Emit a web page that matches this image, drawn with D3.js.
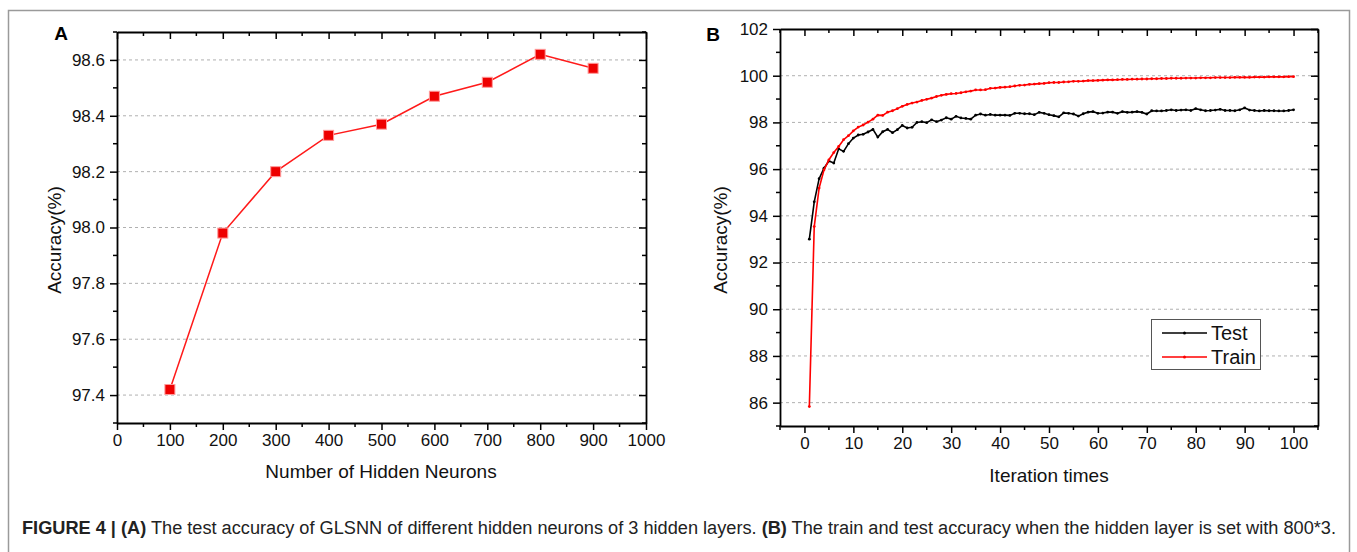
<!DOCTYPE html>
<html><head><meta charset="utf-8">
<script src="https://cdn.jsdelivr.net/npm/d3@7"></script>
<style>
body{margin:0;background:#fff;}
svg{display:block;}
text{font-family:"Liberation Sans",Arial,sans-serif;}
</style>
</head><body>
<svg id="chart" width="1357" height="552"></svg>
<script>
// ---------- Panel A data ----------
const neurons = [100, 200, 300, 400, 500, 600, 700, 800, 900];
const accuracyA = [97.42, 97.98, 98.20, 98.33, 98.37, 98.47, 98.52, 98.62, 98.57];
const xTicksA = [0, 100, 200, 300, 400, 500, 600, 700, 800, 900, 1000];
const yTicksA = [97.4, 97.6, 97.8, 98.0, 98.2, 98.4, 98.6];

// ---------- Panel B data ----------
const iterations = [1,2,3,4,5,6,7,8,9,10,11,12,13,14,15,16,17,18,19,20,21,22,23,24,25,26,27,28,29,30,
  31,32,33,34,35,36,37,38,39,40,41,42,43,44,45,46,47,48,49,50,51,52,53,54,55,56,57,58,59,60,
  61,62,63,64,65,66,67,68,69,70,71,72,73,74,75,76,77,78,79,80,81,82,83,84,85,86,87,88,89,90,
  91,92,93,94,95,96,97,98,99,100];
const testAcc = [93.0,94.6,95.59,96.04,96.35,96.26,96.87,96.76,97.09,97.33,
  97.46,97.49,97.59,97.70,97.37,97.60,97.70,97.56,97.69,97.87,
  97.76,97.79,98.00,98.03,97.99,98.11,98.03,98.10,98.20,98.14,
  98.26,98.19,98.17,98.14,98.31,98.36,98.31,98.34,98.31,98.31,
  98.31,98.30,98.39,98.39,98.37,98.37,98.33,98.43,98.39,98.33,
  98.29,98.24,98.41,98.39,98.36,98.27,98.37,98.44,98.46,98.39,
  98.40,98.44,98.44,98.39,98.46,98.43,98.44,98.46,98.43,98.36,
  98.50,98.49,98.49,98.51,98.54,98.51,98.53,98.54,98.51,98.59,
  98.54,98.50,98.51,98.53,98.56,98.51,98.51,98.50,98.54,98.62,
  98.53,98.51,98.49,98.51,98.50,98.50,98.49,98.49,98.51,98.54];
const trainAcc = [85.83,93.54,95.19,95.97,96.40,96.71,96.97,97.26,97.43,97.64,
  97.80,97.89,98.01,98.14,98.31,98.30,98.44,98.50,98.59,98.69,
  98.77,98.83,98.87,98.94,98.99,99.04,99.11,99.16,99.20,99.23,
  99.24,99.27,99.31,99.34,99.39,99.39,99.40,99.46,99.47,99.50,
  99.51,99.53,99.56,99.59,99.60,99.63,99.64,99.66,99.67,99.70,
  99.71,99.71,99.73,99.74,99.76,99.76,99.77,99.79,99.79,99.80,
  99.81,99.82,99.82,99.83,99.84,99.84,99.85,99.85,99.86,99.86,
  99.87,99.87,99.88,99.88,99.89,99.89,99.89,99.90,99.90,99.90,
  99.91,99.91,99.91,99.92,99.92,99.92,99.92,99.93,99.93,99.93,
  99.93,99.94,99.94,99.94,99.95,99.95,99.95,99.95,99.96,99.96];
const xTicksB = [0,10,20,30,40,50,60,70,80,90,100];
const yTicksB = [86,88,90,92,94,96,98,100,102];
const seriesNames = ["Test", "Train"];

const captionBold1 = "FIGURE 4 | (A)";
const captionText1 = " The test accuracy of GLSNN of different hidden neurons of 3 hidden layers. ";
const captionBold2 = "(B)";
const captionText2 = " The train and test accuracy when the hidden layer is set with 800*3.";

const svg = d3.select("#chart");

// outer frame
svg.append("rect").attr("x", 8.5).attr("y", 10.5).attr("width", 1341).attr("height", 560)
  .attr("fill", "none").attr("stroke", "#9a9a9a").attr("stroke-width", 1.5);

function drawFrame(x, y, xTicks, yTicks, xMinorStep, yMinorStep, gridTicks) {
  const [x0, x1] = x.range();
  const [y0, y1] = y.range();
  const g = svg.append("g");
  g.selectAll("line.grid").data(gridTicks).join("line")
    .attr("x1", x0).attr("x2", x1)
    .attr("y1", d => y(d)).attr("y2", d => y(d))
    .attr("stroke", "#b0b0b0").attr("stroke-width", 1).attr("stroke-dasharray", "3,3");
  const xd = x.domain(), yd = y.domain();
  const xMinor = d3.range(Math.ceil(xd[0] / xMinorStep) * xMinorStep, xd[1] + 1e-9, xMinorStep)
    .filter(v => !xTicks.some(t => Math.abs(t - v) < 1e-9));
  const yMinor = d3.range(Math.ceil(yd[0] / yMinorStep - 1e-9) * yMinorStep, yd[1] + 1e-9, yMinorStep)
    .filter(v => !yTicks.some(t => Math.abs(t - v) < 1e-9));
  const fontSize = 17;
  const bot = g.append("g").attr("transform", `translate(0,${y0})`)
    .call(d3.axisBottom(x).tickValues(xTicks).tickSize(7).tickSizeOuter(0).tickPadding(4).tickFormat(d3.format("d")));
  bot.append("g").selectAll("line").data(xMinor).join("line")
    .attr("x1", d => x(d)).attr("x2", d => x(d)).attr("y1", 0).attr("y2", 4).attr("stroke", "#000").attr("stroke-width", 1.5);
  const top = g.append("g").attr("transform", `translate(0,${y1})`)
    .call(d3.axisTop(x).tickValues(xTicks).tickSize(-7).tickSizeOuter(0).tickFormat(""));
  top.append("g").selectAll("line").data(xMinor).join("line")
    .attr("x1", d => x(d)).attr("x2", d => x(d)).attr("y1", 0).attr("y2", 4).attr("stroke", "#000").attr("stroke-width", 1.5);
  const left = g.append("g").attr("transform", `translate(${x0},0)`)
    .call(d3.axisLeft(y).tickValues(yTicks).tickSize(7).tickSizeOuter(0).tickPadding(5)
      .tickFormat(Number.isInteger(yTicks[0]) ? d3.format("d") : d3.format(".1f")));
  left.append("g").selectAll("line").data(yMinor).join("line")
    .attr("y1", d => y(d)).attr("y2", d => y(d)).attr("x1", 0).attr("x2", -4).attr("stroke", "#000").attr("stroke-width", 1.5);
  const right = g.append("g").attr("transform", `translate(${x1},0)`)
    .call(d3.axisRight(y).tickValues(yTicks).tickSize(-7).tickSizeOuter(0).tickFormat(""));
  right.append("g").selectAll("line").data(yMinor).join("line")
    .attr("y1", d => y(d)).attr("y2", d => y(d)).attr("x1", 0).attr("x2", -4).attr("stroke", "#000").attr("stroke-width", 1.5);
  [bot, top, left, right].forEach(a => {
    a.select(".domain").attr("stroke", "#000").attr("stroke-width", 1.8);
    a.selectAll(".tick line").attr("stroke", "#000").attr("stroke-width", 1.5);
    a.selectAll("text").attr("font-size", fontSize).attr("fill", "#111")
      .attr("font-family", '"Liberation Sans",Arial,sans-serif');
  });
  return g;
}

// ---------- Panel A ----------
const xA = d3.scaleLinear().domain([0, 1000]).range([117, 646]);
const yA = d3.scaleLinear().domain([97.3, 98.7]).range([423, 32]);
drawFrame(xA, yA, xTicksA, yTicksA, 50, 0.1, yTicksA);

const lineA = d3.line().x((d, i) => xA(neurons[i])).y(d => yA(d));
svg.append("path").datum(accuracyA).attr("d", lineA)
  .attr("fill", "none").attr("stroke", "#ff1a1a").attr("stroke-width", 1.5);
svg.append("g").selectAll("rect").data(accuracyA).join("rect")
  .attr("x", (d, i) => xA(neurons[i]) - 5).attr("y", d => yA(d) - 5)
  .attr("width", 10).attr("height", 10)
  .attr("fill", "#ee0000").attr("stroke", "#ff9a9a").attr("stroke-width", 1);

svg.append("text").attr("x", 61).attr("y", 40).attr("text-anchor", "middle")
  .attr("font-weight", "bold").attr("font-size", 19).text("A");
svg.append("text").attr("x", 381).attr("y", 478).attr("text-anchor", "middle")
  .attr("font-size", 19).attr("fill", "#111").text("Number of Hidden Neurons");
svg.append("text").attr("transform", "translate(61,240) rotate(-90)").attr("text-anchor", "middle")
  .attr("font-size", 19).attr("fill", "#111").text("Accuracy(%)");

// ---------- Panel B ----------
const xB = d3.scaleLinear().domain([-5, 105]).range([780, 1318]);
const yB = d3.scaleLinear().domain([85, 102]).range([426, 29]);
drawFrame(xB, yB, xTicksB, yTicksB, 5, 1, yTicksB.filter(v => v < 102));

const colors = ["#000000", "#ff0000"];
[testAcc, trainAcc].forEach((vals, k) => {
  const ln = d3.line().x((d, i) => xB(iterations[i])).y(d => yB(d));
  svg.append("path").datum(vals).attr("d", ln)
    .attr("fill", "none").attr("stroke", colors[k]).attr("stroke-width", 1.6);
  svg.append("g").selectAll("circle").data(vals).join("circle")
    .attr("cx", (d, i) => xB(iterations[i])).attr("cy", d => yB(d)).attr("r", 1.4)
    .attr("fill", colors[k]);
});

// legend
const lg = svg.append("g");
lg.append("rect").attr("x", 1151.5).attr("y", 319.5).attr("width", 109).attr("height", 50)
  .attr("fill", "#fff").attr("stroke", "#555").attr("stroke-width", 1);
seriesNames.forEach((name, k) => {
  const yy = 333 + k * 24;
  lg.append("line").attr("x1", 1162).attr("x2", 1207).attr("y1", yy).attr("y2", yy)
    .attr("stroke", colors[k]).attr("stroke-width", 1.6);
  lg.append("circle").attr("cx", 1184.5).attr("cy", yy).attr("r", 1.5).attr("fill", colors[k]);
  lg.append("text").attr("x", 1211).attr("y", yy + 7).attr("font-size", 20).attr("fill", "#111").text(name);
});

svg.append("text").attr("x", 713).attr("y", 41).attr("text-anchor", "middle")
  .attr("font-weight", "bold").attr("font-size", 19).text("B");
svg.append("text").attr("x", 1049).attr("y", 482).attr("text-anchor", "middle")
  .attr("font-size", 19).attr("fill", "#111").text("Iteration times");
svg.append("text").attr("transform", "translate(727,240) rotate(-90)").attr("text-anchor", "middle")
  .attr("font-size", 19).attr("fill", "#111").text("Accuracy(%)");

// caption
const cap = svg.append("text").attr("x", 22).attr("y", 534).attr("font-size", 18).attr("fill", "#222")
  .attr("textLength", 1314).attr("lengthAdjust", "spacingAndGlyphs");
cap.append("tspan").attr("font-weight", "bold").text(captionBold1);
cap.append("tspan").text(captionText1);
cap.append("tspan").attr("font-weight", "bold").text(captionBold2);
cap.append("tspan").text(captionText2);
</script>
</body></html>
